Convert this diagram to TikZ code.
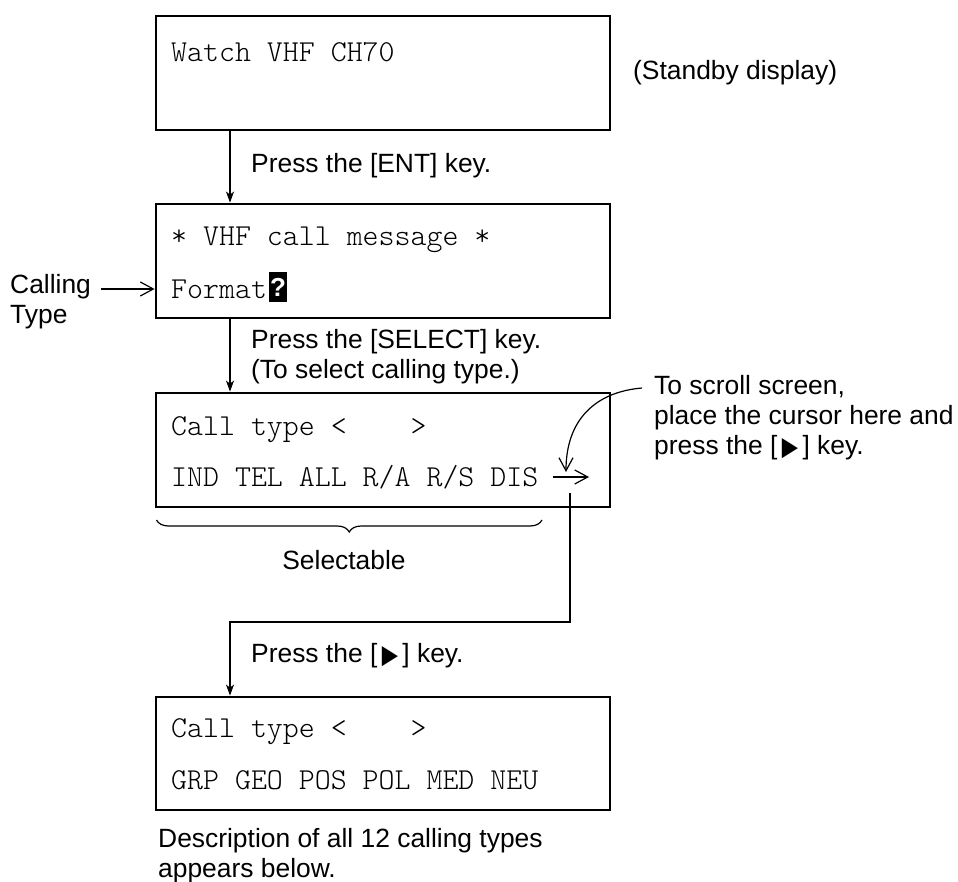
\documentclass[tikz,border=0pt]{standalone}
\usepackage{fontspec}
\setmainfont{Liberation Sans}
\setmonofont{lmmonolt10-regular.otf}
\newfontfamily\symfont{DejaVu Sans}
\usetikzlibrary{arrows.meta,decorations.pathreplacing}
\newcommand\playtri{\,{\symfont\raisebox{-0.5pt}{\scalebox{0.8}[1.0]{▶}}}\,}
\begin{document}
\begin{tikzpicture}[x=1pt,y=-1pt,
  box/.style={draw,line width=2.8pt,minimum width=454pt,minimum height=114pt,inner sep=0pt},
  mono/.style={anchor=west,inner sep=0pt,font=\fontsize{30.4}{36}\selectfont\ttfamily},
  lbl/.style={anchor=west,inner sep=0pt,align=left,font=\fontsize{26.4}{30}\selectfont},
  conn/.style={line width=1.2pt},
  fl/.style={conn,-{Stealth[length=11pt,width=8pt,inset=3pt]}},
  op/.style={conn,-{Straight Barb[length=13pt,width=14pt]}}]
\useasboundingbox (0,0) rectangle (958,882);
% boxes
\node[box] (b1) at (383,73) {};
\node[box] (b2) at (383,261) {};
\node[box] (b3) at (383,450) {};
\node[box,minimum height=113pt] (b4) at (383,753.5) {};
\coordinate (ax) at (230,0);
% box 1
\node[mono] (t1) at (171,52) {Watch VHF CH70};
\node[lbl] (sb) at (633,73) {(Standby display)};
\draw[fl] (ax |- b1.south) -- (ax |- b2.north);
\node[lbl] (ent) at (251,166) {Press the [ENT] key.};
% box 2
\node[mono] (t2a) at (171,240) {* VHF call message *};
\node[mono] (t2b) at (171,289) {Format};
\node[fill=black,text=white,inner sep=0pt,minimum width=18pt,minimum height=30pt,
      font=\fontsize{26}{30}\selectfont\bfseries] (cur) at (278,287) {?};
\node[lbl] (calling) at (10,302) {Calling\\Type};
\coordinate (cs) at (101,289);
\draw[op] (cs) -- (cs -| b2.west);
\draw[fl] (ax |- b2.south) -- (ax |- b3.north);
\node[lbl] (sel) at (251,357) {Press the [SELECT] key.\\(To select calling type.)};
% box 3
\node[mono] (t3a) at (171,430) {Call type <\ \ \ \ >};
\node[mono] (t3b) at (171,477.5) {IND TEL ALL R/A R/S DIS};
\coordinate (da) at (553,477);
\coordinate (db) at (589,477);
\draw[op] (da) -- (db);
\coordinate (cva) at (642,388);
\coordinate (cvb) at (566,472);
\draw[op] (cva) .. controls (595,392) and (566,420) .. (cvb);
\node[lbl] (scr) at (654,418) {To scroll screen,\\place the cursor here and\\press the [\playtri] key.};
% brace
\coordinate (bl) at (156.5,520);
\coordinate (br) at (542,520);
\draw[conn,decorate,decoration={brace,mirror,amplitude=12pt}] (bl) -- (br);
\node[lbl,anchor=center] (selt) at (344,560) {Selectable};
% route to box 4
\coordinate (r0) at (570,493);
\coordinate (r1) at (570,622);
\draw[fl] (r0) -- (r1) -- (r1 -| ax) -- (ax |- b4.north);
\node[lbl] (prs) at (251,656) {Press the [\playtri] key.};
% box 4
\node[mono] (t4a) at (171,732) {Call type <\ \ \ \ >};
\node[mono] (t4b) at (171,780) {GRP GEO POS POL MED NEU};
\node[lbl] (desc) at (158,856) {Description of all 12 calling types\\appears below.};
\end{tikzpicture}
\end{document}
